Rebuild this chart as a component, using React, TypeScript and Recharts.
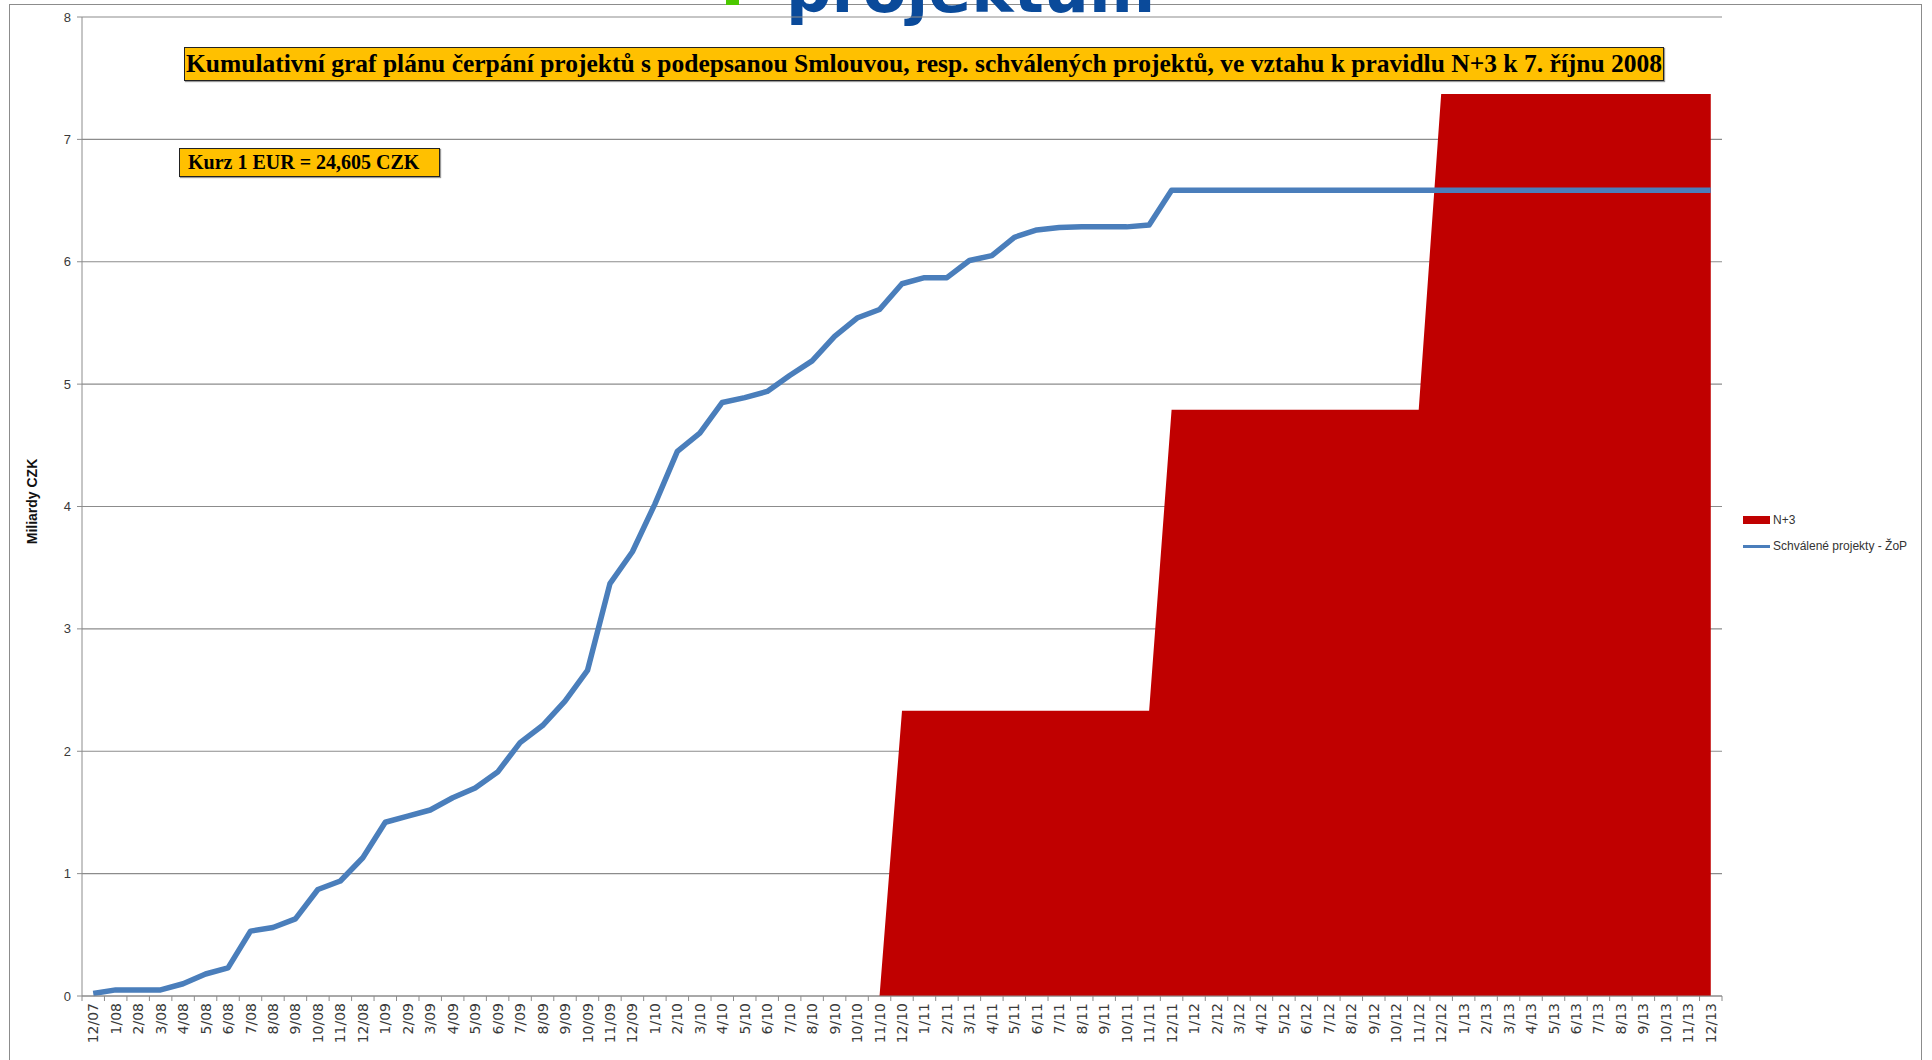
import React from 'react';
import { ComposedChart, Area, Line, XAxis, YAxis, CartesianGrid, Legend } from 'recharts';

// monthly categories 12/2007 .. 12/2013
const months = [
  '12/07',
  '1/08', '2/08', '3/08', '4/08', '5/08', '6/08', '7/08', '8/08', '9/08', '10/08', '11/08', '12/08',
  '1/09', '2/09', '3/09', '4/09', '5/09', '6/09', '7/09', '8/09', '9/09', '10/09', '11/09', '12/09',
  '1/10', '2/10', '3/10', '4/10', '5/10', '6/10', '7/10', '8/10', '9/10', '10/10', '11/10', '12/10',
  '1/11', '2/11', '3/11', '4/11', '5/11', '6/11', '7/11', '8/11', '9/11', '10/11', '11/11', '12/11',
  '1/12', '2/12', '3/12', '4/12', '5/12', '6/12', '7/12', '8/12', '9/12', '10/12', '11/12', '12/12',
  '1/13', '2/13', '3/13', '4/13', '5/13', '6/13', '7/13', '8/13', '9/13', '10/13', '11/13', '12/13',
];

// Schválené projekty - ŽoP (mld. CZK, kumulativně)
const schvaleneProjekty = [
  0.02,
  0.05, 0.05, 0.05, 0.10, 0.18, 0.23, 0.53, 0.56, 0.63, 0.87, 0.94, 1.13,
  1.42, 1.47, 1.52, 1.62, 1.70, 1.83, 2.07, 2.21, 2.41, 2.66, 3.37, 3.63,
  4.02, 4.45, 4.60, 4.85, 4.89, 4.94, 5.07, 5.19, 5.39, 5.54, 5.61, 5.82,
  5.87, 5.87, 6.01, 6.05, 6.20, 6.26, 6.28, 6.285, 6.285, 6.285, 6.30, 6.585,
  6.585, 6.585, 6.585, 6.585, 6.585, 6.585, 6.585, 6.585, 6.585, 6.585, 6.585, 6.585,
  6.585, 6.585, 6.585, 6.585, 6.585, 6.585, 6.585, 6.585, 6.585, 6.585, 6.585, 6.585,
];

// N+3 limit
const nPlus3 = [
  0,
  0, 0, 0, 0, 0, 0, 0, 0, 0, 0, 0, 0,
  0, 0, 0, 0, 0, 0, 0, 0, 0, 0, 0, 0,
  0, 0, 0, 0, 0, 0, 0, 0, 0, 0, 0, 2.33,
  2.33, 2.33, 2.33, 2.33, 2.33, 2.33, 2.33, 2.33, 2.33, 2.33, 2.33, 4.79,
  4.79, 4.79, 4.79, 4.79, 4.79, 4.79, 4.79, 4.79, 4.79, 4.79, 4.79, 7.37,
  7.37, 7.37, 7.37, 7.37, 7.37, 7.37, 7.37, 7.37, 7.37, 7.37, 7.37, 7.37,
];

const yTicks = [0, 1, 2, 3, 4, 5, 6, 7, 8];

const W = 1932;
const H = 1060;
const MARGIN = { top: 17, right: 210, bottom: 0, left: 0 };
const Y_AXIS_W = 82;
const X_AXIS_H = 64;
const BAND = (W - MARGIN.left - MARGIN.right - Y_AXIS_W) / months.length;

const RED = '#C00000';
const BLUE = '#4A7EBB';
const GRID = '#8c8c8c';
const LABEL = '#3a3a3a';

const data = months.map((m, i) => ({ month: m, n3: nPlus3[i], zop: schvaleneProjekty[i] }));

const MonthTick = (props: any) => {
  const { x, y, payload, index } = props;
  const ty = y + 7;
  return (
    <g>
      <line x1={x - BAND / 2} x2={x - BAND / 2} y1={y} y2={y + 5} stroke={GRID} />
      {index === months.length - 1 && (
        <line x1={x + BAND / 2} x2={x + BAND / 2} y1={y} y2={y + 5} stroke={GRID} />
      )}
      <text
        x={x}
        y={ty}
        transform={`rotate(-90 ${x} ${ty})`}
        textAnchor="end"
        dy="0.36em"
        fontSize={14}
        fontFamily="DejaVu Sans"
        fill={LABEL}
      >
        {payload.value}
      </text>
    </g>
  );
};

const AxisTitle = (props: any) => {
  const { viewBox } = props;
  const cx = viewBox.x + 32;
  const cy = viewBox.y + viewBox.height / 2 - 5;
  return (
    <text
      x={cx}
      y={cy}
      transform={`rotate(-90 ${cx} ${cy})`}
      textAnchor="middle"
      dy="0.35em"
      fontSize={14}
      fontWeight="bold"
      fontFamily="Liberation Sans"
      fill="#111"
    >
      Miliardy CZK
    </text>
  );
};

const LegendBox = ({ payload }: any) => (
  <div style={{ fontFamily: 'Liberation Sans', fontSize: 12, color: '#333' }}>
    {(payload || []).map((p: any) => (
      <div key={p.value} style={{ display: 'flex', alignItems: 'center', height: 26 }}>
        {p.dataKey === 'n3' ? (
          <span style={{ width: 27, height: 8, background: RED }} />
        ) : (
          <span style={{ width: 27, height: 3, background: BLUE }} />
        )}
        <span style={{ marginLeft: 3 }}>{p.value}</span>
      </div>
    ))}
  </div>
);

export default function App() {
  return (
    <div style={{ position: 'absolute', left: 0, top: 0, width: W, height: H, overflow: 'hidden', background: '#fff' }}>
      <svg width={W} height={H} style={{ position: 'absolute', left: 0, top: 0 }}>
        <rect x={9.5} y={4.5} width={1912} height={1200} fill="none" stroke={GRID} />
        <rect x={726} y={0} width={13} height={5} fill="#4cc800" />
        <text x={786} y={12} fontSize={63.5} fontWeight="bold" fontFamily="DejaVu Sans" fill="#0a4a9a">
          projektům
        </text>
      </svg>
      <div style={{ position: 'absolute', left: 0, top: 0 }}>
        <ComposedChart width={W} height={H} data={data} margin={MARGIN}>
          <CartesianGrid vertical={false} stroke={GRID} strokeWidth={1.2} />
          <XAxis
            dataKey="month"
            scale="band"
            interval={0}
            height={X_AXIS_H}
            tickSize={0}
            tickMargin={0}
            tickLine={false}
            axisLine={{ stroke: GRID }}
            tick={<MonthTick />}
          />
          <YAxis
            type="number"
            domain={[0, 8]}
            ticks={yTicks}
            width={Y_AXIS_W}
            tickSize={5}
            tickMargin={6}
            tickLine={{ stroke: GRID }}
            axisLine={{ stroke: GRID }}
            tick={{ fontSize: 13, fill: LABEL, fontFamily: 'Liberation Sans' }}
            label={<AxisTitle />}
          />
          <Area
            type="linear"
            dataKey="n3"
            name="N+3"
            legendType="rect"
            fill={RED}
            fillOpacity={1}
            stroke="none"
            isAnimationActive={false}
          />
          <Line
            type="linear"
            dataKey="zop"
            name="Schválené projekty - ŽoP"
            stroke={BLUE}
            strokeWidth={5.5}
            strokeLinejoin="round"
            dot={false}
            activeDot={false}
            isAnimationActive={false}
          />
          <Legend
            layout="vertical"
            align="center"
            verticalAlign="middle"
            content={<LegendBox />}
            wrapperStyle={{ left: 1743, top: 507, width: 190, height: 60 }}
          />
        </ComposedChart>
      </div>
      <div
        style={{
          position: 'absolute',
          left: 184,
          top: 47,
          width: 1480,
          height: 34,
          boxSizing: 'border-box',
          background: '#FFC000',
          border: '1px solid #222',
          boxShadow: '1px 1px 1px #999',
          fontFamily: 'Liberation Serif',
          fontWeight: 'bold',
          fontSize: 25.5,
          lineHeight: '32px',
          textAlign: 'center',
          color: '#000',
          whiteSpace: 'nowrap',
        }}
      >
        Kumulativní graf plánu čerpání projektů s podepsanou Smlouvou, resp. schválených projektů, ve vztahu k pravidlu N+3 k 7. říjnu 2008
      </div>
      <div
        style={{
          position: 'absolute',
          left: 179,
          top: 148,
          width: 261,
          height: 29,
          boxSizing: 'border-box',
          background: '#FFC000',
          border: '1px solid #222',
          boxShadow: '1px 1px 1px #999',
          fontFamily: 'Liberation Serif',
          fontWeight: 'bold',
          fontSize: 20,
          lineHeight: '27px',
          paddingLeft: 8,
          color: '#000',
          whiteSpace: 'nowrap',
        }}
      >
        Kurz 1 EUR = 24,605 CZK
      </div>
    </div>
  );
}
